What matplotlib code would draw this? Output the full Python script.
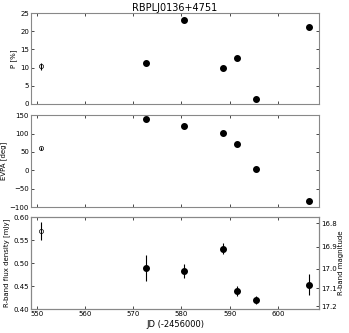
import numpy as np
import matplotlib
matplotlib.use('Agg')
import matplotlib.pyplot as plt

# ── data ──────────────────────────────────────────────────────────────────────
# first point (open symbol) is the archival one, rest are the campaign points
jd_old = [550.8]
p_old = [10.4]
p_old_err = [1.0]
evpa_old = [59.5]
evpa_old_err = [3.0]
flux_old = [0.570]
flux_old_err = [0.020]

jd = [572.6, 580.5, 588.6, 591.5, 595.5, 606.4]
p = [11.2, 23.1, 10.0, 12.6, 1.5, 21.2]
p_err = [0.5, 0.5, 0.5, 0.6, 0.6, 0.6]
evpa = [139, 120, 101, 70.5, 5, -82]
evpa_err = [1.5, 1.5, 1.5, 1.5, 8.0, 1.5]
flux = [0.489, 0.482, 0.531, 0.439, 0.420, 0.453]
flux_err = [0.028, 0.015, 0.012, 0.011, 0.009, 0.023]

mag_ticks = [16.8, 16.9, 17.0, 17.1, 17.2]
F0_MJY = 3.08e6  # R-band zero point in mJy

plt.rcParams['font.size'] = 5
plt.rcParams['xtick.direction'] = 'in'
plt.rcParams['ytick.direction'] = 'in'
plt.rcParams['xtick.major.size'] = 2.5
plt.rcParams['ytick.major.size'] = 2.5

fig = plt.figure(figsize=(3.49, 3.33), dpi=100)
left, width = 0.0888, 0.825
ax1 = fig.add_axes([left, 0.6877, width, 0.273])
ax2 = fig.add_axes([left, 0.378, width, 0.276], sharex=ax1)
ax3 = fig.add_axes([left, 0.072, width, 0.276], sharex=ax1)

def style(ax):
    for s in ax.spines.values():
        s.set_color('#888888')
    ax.tick_params(top=True, right=True, pad=1.5, width=0.5)

# -- P --
ax1.errorbar(jd_old, p_old, yerr=p_old_err, fmt='o', mfc='none', mec='k',
             ecolor='k', ms=3, mew=0.5, elinewidth=0.8)
ax1.errorbar(jd, p, yerr=p_err, fmt='o', color='k', ms=4, elinewidth=0.8)
ax1.set_ylim(0, 25)
ax1.set_ylabel('P [%]')
ax1.set_title('RBPLJ0136+4751', fontsize=7, pad=1.5)

# -- EVPA --
ax2.errorbar(jd_old, evpa_old, yerr=evpa_old_err, fmt='o', mfc='none', mec='k',
             ecolor='k', ms=3, mew=0.5, elinewidth=0.8)
ax2.errorbar(jd, evpa, yerr=evpa_err, fmt='o', color='k', ms=4, elinewidth=0.8)
ax2.set_ylim(-100, 150)
ax2.set_ylabel('EVPA [deg]')

# -- flux --
ax3.errorbar(jd_old, flux_old, yerr=flux_old_err, fmt='o', mfc='none', mec='k',
             ecolor='k', ms=3, mew=0.5, elinewidth=0.8)
ax3.errorbar(jd, flux, yerr=flux_err, fmt='o', color='k', ms=4, elinewidth=0.8)
ax3.set_ylim(0.40, 0.60)
ax3.set_yticks([0.40, 0.45, 0.50, 0.55, 0.60])
ax3.set_ylabel('R-band flux density [mJy]')
ax3.set_xlabel('JD (-2456000)', fontsize=6, labelpad=2)
ax3.set_xlim(548.8, 608.5)
ax3.set_xticks([550, 560, 570, 580, 590, 600])

for ax in (ax1, ax2):
    plt.setp(ax.get_xticklabels(), visible=False)
for ax in (ax1, ax2, ax3):
    style(ax)
    ax.yaxis.labelpad = 2

# right axis in magnitudes
ax3r = ax3.twinx()
ax3r.set_ylim(ax3.get_ylim())
ax3r.set_yticks([F0_MJY * 10 ** (-0.4 * m) for m in mag_ticks])
ax3r.set_yticklabels([f'{m:.1f}' for m in mag_ticks])
ax3r.set_ylabel('R-band magnitude', labelpad=1)
style(ax3r)
ax3r.tick_params(left=False, top=False)
ax3.tick_params(right=False)

fig.savefig('out.png', dpi=100)
